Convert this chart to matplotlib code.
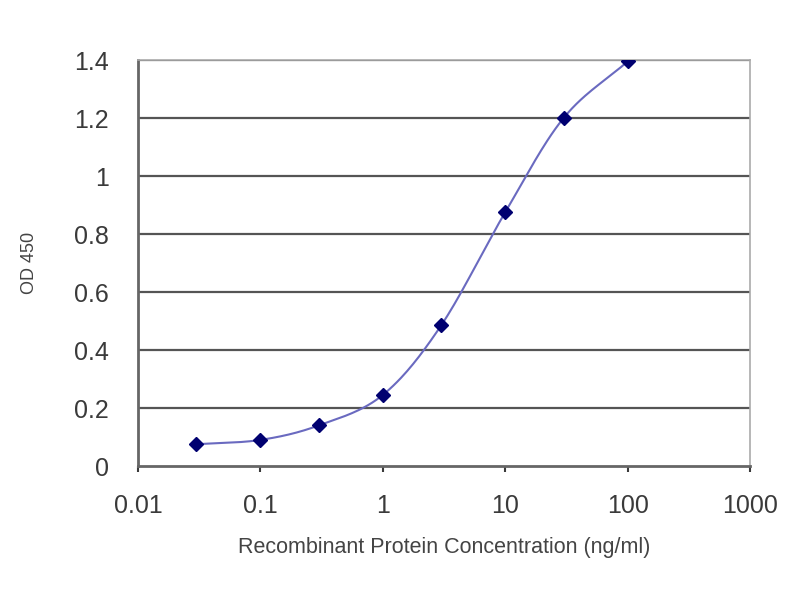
import numpy as np
import matplotlib.pyplot as plt

plt.rcParams['font.family'] = ['Liberation Sans', 'DejaVu Sans']

conc = [0.03, 0.1, 0.3, 1, 3, 10, 30, 100]
od450 = [0.075, 0.09, 0.14, 0.245, 0.485, 0.875, 1.2, 1.395]
xticks = [0.01, 0.1, 1, 10, 100, 1000]
xticklabels = ['0.01', '0.1', '1', '10', '100', '1000']
yticks = [0, 0.2, 0.4, 0.6, 0.8, 1, 1.2, 1.4]
yticklabels = ['0', '0.2', '0.4', '0.6', '0.8', '1', '1.2', '1.4']


def smooth(x, y, n=30):
    # catmull-rom through the points, like excel's smoothed line
    px = np.log10(x)
    py = np.array(y, dtype=float)
    px = np.concatenate([[2 * px[0] - px[1]], px, [2 * px[-1] - px[-2]]])
    py = np.concatenate([[2 * py[0] - py[1]], py, [2 * py[-1] - py[-2]]])
    xs, ys = [], []
    t = np.linspace(0, 1, n)
    for i in range(1, len(px) - 2):
        for p, out in ((px, xs), (py, ys)):
            p0, p1, p2, p3 = p[i - 1], p[i], p[i + 1], p[i + 2]
            out.extend(0.5 * (2 * p1 + (-p0 + p2) * t
                              + (2 * p0 - 5 * p1 + 4 * p2 - p3) * t ** 2
                              + (-p0 + 3 * p1 - 3 * p2 + p3) * t ** 3))
    return 10 ** np.array(xs), np.array(ys)


fig = plt.figure(figsize=(8, 6), dpi=100, facecolor='white')
ax = fig.add_axes([0.1725, 0.2233, 0.765, 0.6767])

for yv in yticks[1:]:
    ax.axhline(yv, color='#555555', linewidth=1.6, zorder=1)

sx, sy = smooth(conc, od450)
ax.plot(sx, sy, color='#6a6ac0', linewidth=1.5, zorder=2)
ax.plot(conc, od450, linestyle='none', marker='D', markersize=7,
        color='#000070', zorder=3)

ax.set_xscale('log')
ax.set_xlim(0.01, 1000)
ax.set_ylim(0, 1.4)
ax.set_xticks(xticks)
ax.set_xticklabels(xticklabels)
ax.minorticks_off()
ax.set_yticks(yticks)
ax.set_yticklabels(yticklabels)

ax.tick_params(axis='both', labelsize=18, colors='#3a3a3a', length=4, width=1.5)
ax.tick_params(axis='y', length=0, pad=21)
ax.tick_params(axis='x', pad=16)

for side in ['left', 'bottom']:
    ax.spines[side].set_color('#666666')
    ax.spines[side].set_linewidth(2)
for side in ['right', 'top']:
    ax.spines[side].set_color('#aaaaaa')
    ax.spines[side].set_linewidth(1.2)

ax.set_xlabel('Recombinant Protein Concentration (ng/ml)', fontsize=15.5,
              color='#444444', labelpad=14)
ax.set_ylabel('OD 450', fontsize=13, color='#444444', labelpad=26)

fig.savefig('out.png', dpi=100, facecolor='white')
